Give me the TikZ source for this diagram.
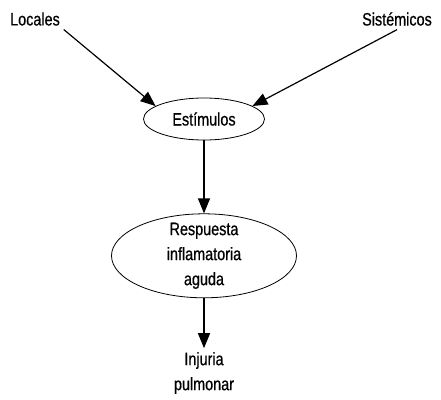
\documentclass[tikz,border=0pt]{standalone}
\usepackage{fontspec}
\setmainfont{Liberation Sans}[FakeStretch=0.8, FakeBold=0.6]
\usetikzlibrary{arrows.meta, positioning, shapes.geometric}

\begin{document}
\begin{tikzpicture}[x=1pt, y=-1pt, node distance=73pt, >={Triangle[length=15pt, width=12pt]}, font=\fontsize{18}{25}\selectfont, line width=1.2pt]
    \useasboundingbox (0,0) rectangle (441,399);
    \node (locales) at (35,19) {Locales};
    \node (sistemicos) at (397,19) {Sistémicos};
    \node[draw, ellipse, line width=0.8pt, minimum width=121pt, minimum height=42pt] (estimulos) at (204,119) {Estímulos};
    \node[draw, ellipse, line width=0.8pt, below=of estimulos, minimum width=185pt, minimum height=84pt, inner ysep=-5pt, align=center] (respuesta) {Respuesta\\inflamatoria\\aguda};
    \node[below=50pt of respuesta, align=center] (injuria) {Injuria\\pulmonar};

    \draw[->] (locales.south east) -- (estimulos.165);
    \draw[->] (sistemicos.south) -- (estimulos.15);
    \draw[->] (estimulos) -- (respuesta);
    \draw[->] (respuesta) -- (injuria);
\end{tikzpicture}
\end{document}
